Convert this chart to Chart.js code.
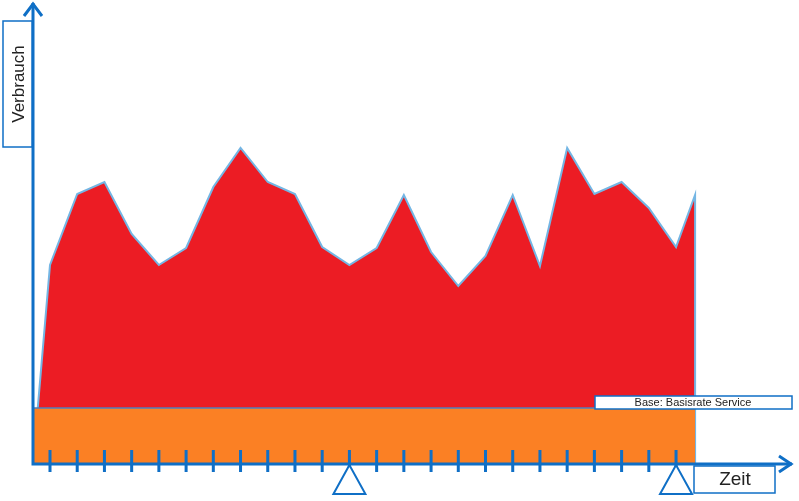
<!DOCTYPE html>
<html lang="de">
<head>
<meta charset="UTF-8">
<title>Verbrauch / Zeit</title>
<script src="https://cdn.jsdelivr.net/npm/chart.js"></script>
<style>
    html, body { margin: 0; padding: 0; background: #fff; }
    #box { width: 799px; height: 501px; }
</style>
</head>
<body>
<div id="box"><canvas id="grafico" width="799" height="501"></canvas></div>

<script>
    // Zeitpunkte (x) und Verbrauch (y)
    var zeitpunkte = [-0.62, 0, 1, 2, 3, 4, 5, 6, 7, 8, 9, 10, 11, 12, 13, 14, 15, 16, 17, 18, 19, 20, 21, 22, 23, 23.7, 23.7];
    var verbrauch  = [2, 199, 270, 282, 230, 199, 216, 277, 316, 282, 270, 217, 199, 216, 269, 212, 178, 208, 269, 198, 316, 270, 282, 256, 217, 269, 0];

    // Basisrate (orange Band)
    var basisZeit = [-0.62, 23.7];
    var basisWert = [56, 56];

    // Skalenstriche und Dreiecke auf der Zeitachse
    var skalenstriche = [0, 1, 2, 3, 4, 5, 6, 7, 8, 9, 10, 11, 12, 13, 14, 15, 16, 17, 18, 19, 20, 21, 22, 23];
    var dreiecke = [11, 23];

    var blau = '#0F6FC6';

    function punkte(xs, ys) {
        return xs.map(function (x, i) { return { x: x, y: ys[i] }; });
    }

    function kasten(ctx, x, y, w, h) {
        ctx.fillStyle = '#fff';
        ctx.fillRect(x, y, w, h);
        ctx.strokeStyle = blau;
        ctx.lineWidth = 1.5;
        ctx.strokeRect(x, y, w, h);
    }

    var deko = {
        id: 'deko',
        afterDatasetsDraw: function (chart) {
            var ctx = chart.ctx;
            var xs = chart.scales.x;
            var ys = chart.scales.y;
            var a = chart.chartArea;
            var x0 = xs.getPixelForValue(xs.min);
            var y0 = ys.getPixelForValue(0);

            ctx.save();
            ctx.strokeStyle = blau;
            ctx.lineWidth = 3;
            ctx.lineCap = 'butt';

            // Achsen
            ctx.beginPath();
            ctx.moveTo(x0, y0 + 1.5);
            ctx.lineTo(x0, a.top);
            ctx.moveTo(x0 - 1.5, y0);
            ctx.lineTo(a.right, y0);
            ctx.stroke();

            // Pfeilspitzen
            ctx.lineJoin = 'miter';
            ctx.beginPath();
            ctx.moveTo(x0 - 9, a.top + 13);
            ctx.lineTo(x0, a.top + 1);
            ctx.lineTo(x0 + 9, a.top + 13);
            ctx.moveTo(a.right - 13, y0 - 8);
            ctx.lineTo(a.right - 1, y0);
            ctx.lineTo(a.right - 13, y0 + 8);
            ctx.stroke();

            // Skalenstriche
            ctx.beginPath();
            skalenstriche.forEach(function (t) {
                var px = xs.getPixelForValue(t);
                ctx.moveTo(px, y0 - 14);
                ctx.lineTo(px, y0 + 8);
            });
            ctx.stroke();

            // Dreiecke
            ctx.lineWidth = 2;
            dreiecke.forEach(function (t) {
                var px = xs.getPixelForValue(t);
                ctx.beginPath();
                ctx.moveTo(px, y0 + 1);
                ctx.lineTo(px - 16, y0 + 30);
                ctx.lineTo(px + 16, y0 + 30);
                ctx.closePath();
                ctx.fillStyle = '#fff';
                ctx.fill();
                ctx.stroke();
            });

            // Beschriftungen
            ctx.textAlign = 'center';
            ctx.textBaseline = 'middle';

            kasten(ctx, 3, 21, 29, 126);
            ctx.save();
            ctx.translate(18, 84);
            ctx.rotate(-Math.PI / 2);
            ctx.fillStyle = '#222';
            ctx.font = '17px "Liberation Sans", Arial, sans-serif';
            ctx.fillText('Verbrauch', 0, 1);
            ctx.restore();

            kasten(ctx, 694, 466, 81, 27);
            ctx.fillStyle = '#222';
            ctx.font = '19px "Liberation Sans", Arial, sans-serif';
            ctx.fillText('Zeit', 735, 480);

            kasten(ctx, 595, 396, 197, 13);
            ctx.fillStyle = '#222';
            ctx.font = '11px "Liberation Sans", Arial, sans-serif';
            ctx.fillText('Base: Basisrate Service', 693, 403);

            ctx.restore();
        }
    };

    new Chart(document.getElementById('grafico').getContext('2d'), {
        type: 'line',
        data: {
            datasets: [
                {
                    label: 'Basisrate',
                    data: punkte(basisZeit, basisWert),
                    backgroundColor: '#FB8024',
                    borderColor: '#4F7FBF',
                    borderWidth: 1.5,
                    pointRadius: 0,
                    fill: 'origin'
                },
                {
                    label: 'Verbrauch',
                    data: punkte(zeitpunkte, verbrauch),
                    backgroundColor: '#EC1C24',
                    borderColor: '#74B6E4',
                    borderWidth: 2,
                    pointRadius: 0,
                    tension: 0,
                    fill: 'origin'
                }
            ]
        },
        options: {
            responsive: false,
            animation: false,
            layout: { padding: { left: 33, top: 3, right: 7, bottom: 37 } },
            plugins: {
                legend: { display: false },
                tooltip: { enabled: false }
            },
            scales: {
                x: { type: 'linear', display: false, min: -0.6246, max: 27.26 },
                y: { display: false, min: 0, max: 461 }
            }
        },
        plugins: [deko]
    });
</script>
</body>
</html>
